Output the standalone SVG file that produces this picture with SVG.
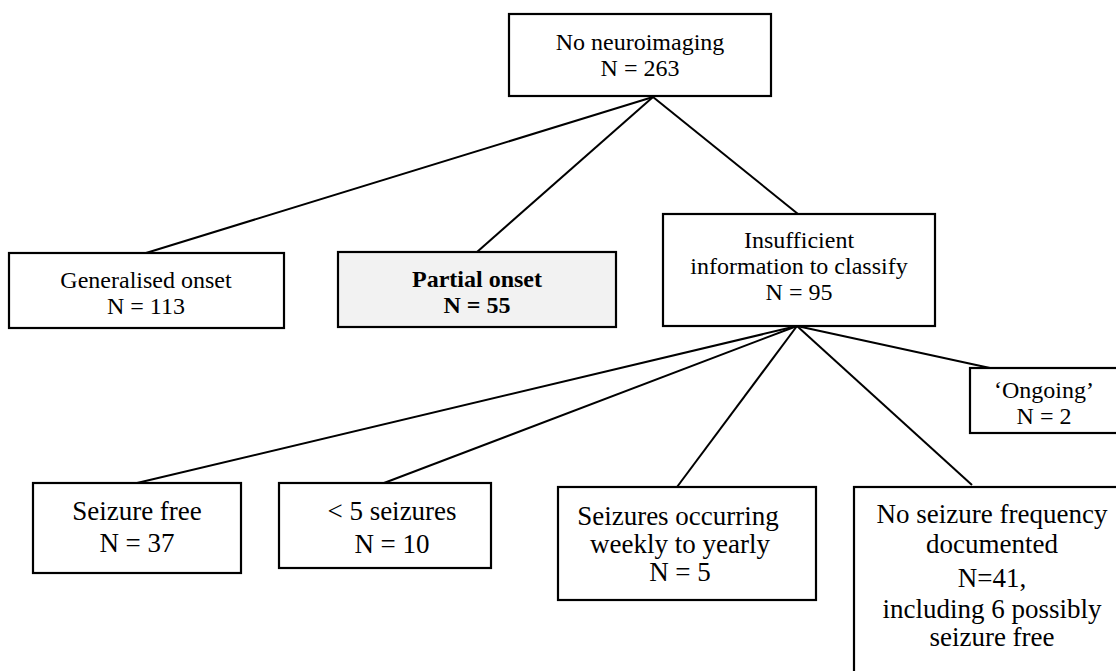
<svg xmlns="http://www.w3.org/2000/svg" width="1116" height="671" viewBox="0 0 1116 671">
<style>
.box{fill:#fff;stroke:#000;stroke-width:2.2}
.t{font-family:"Liberation Serif","Times New Roman",serif;font-size:24px;fill:#000;text-anchor:middle}
.tb{font-size:27px}
.bold{font-weight:bold}
.ln{stroke:#000;stroke-width:2;fill:none}
</style>
<rect width="1116" height="671" fill="#fff"/>
<g id="connectors">
<line class="ln" x1="653" y1="97" x2="146" y2="253"/>
<line class="ln" x1="653" y1="97" x2="477" y2="252"/>
<line class="ln" x1="653" y1="97" x2="798" y2="214"/>
<line class="ln" x1="797" y1="326" x2="137" y2="483"/>
<line class="ln" x1="797" y1="326" x2="384" y2="483"/>
<line class="ln" x1="797" y1="326" x2="677" y2="487"/>
<line class="ln" x1="797" y1="326" x2="972" y2="485"/>
<line class="ln" x1="797" y1="326" x2="990" y2="368"/>
</g>
<g id="n-top">
<rect class="box" x="509" y="14" width="262" height="82"/>
<text class="t" x="640" y="50">No neuroimaging</text>
<text class="t" x="640" y="76">N = 263</text>
</g>
<g id="n-generalised">
<rect class="box" x="9" y="253" width="275" height="75"/>
<text class="t" x="146" y="288">Generalised onset</text>
<text class="t" x="146" y="314">N = 113</text>
</g>
<g id="n-partial">
<rect x="338" y="252" width="278" height="75" fill="#f2f2f2" stroke="#000" stroke-width="2.2"/>
<text class="t bold" x="477" y="287">Partial onset</text>
<text class="t bold" x="477" y="313">N = 55</text>
</g>
<g id="n-insufficient">
<rect class="box" x="663" y="214" width="272" height="112"/>
<text class="t" x="799" y="248">Insufficient</text>
<text class="t" x="799" y="274">information to classify</text>
<text class="t" x="799" y="300">N = 95</text>
</g>
<g id="n-ongoing">
<rect class="box" x="970" y="368" width="160" height="65"/>
<text class="t" x="1044" y="398">‘Ongoing’</text>
<text class="t" x="1044" y="424">N = 2</text>
</g>
<g id="n-seizurefree">
<rect class="box" x="33" y="483" width="208" height="90"/>
<text class="t tb" x="137" y="520">Seizure free</text>
<text class="t tb" x="137" y="552">N = 37</text>
</g>
<g id="n-less5">
<rect class="box" x="279" y="483" width="212" height="85"/>
<text class="t tb" x="392" y="520">&lt; 5 seizures</text>
<text class="t tb" x="392" y="553">N = 10</text>
</g>
<g id="n-weekly">
<rect class="box" x="558" y="487" width="258" height="113"/>
<text class="t tb" x="678" y="525">Seizures occurring</text>
<text class="t tb" x="680" y="553">weekly to yearly</text>
<text class="t tb" x="680" y="581">N = 5</text>
</g>
<g id="n-nofreq">
<rect class="box" x="854" y="487" width="280" height="200"/>
<text class="t tb" x="992" y="523">No seizure frequency</text>
<text class="t tb" x="992" y="553">documented</text>
<text class="t tb" x="992" y="587">N=41,</text>
<text class="t tb" x="992" y="618">including 6 possibly</text>
<text class="t tb" x="992" y="646">seizure free</text>
</g>
</svg>
